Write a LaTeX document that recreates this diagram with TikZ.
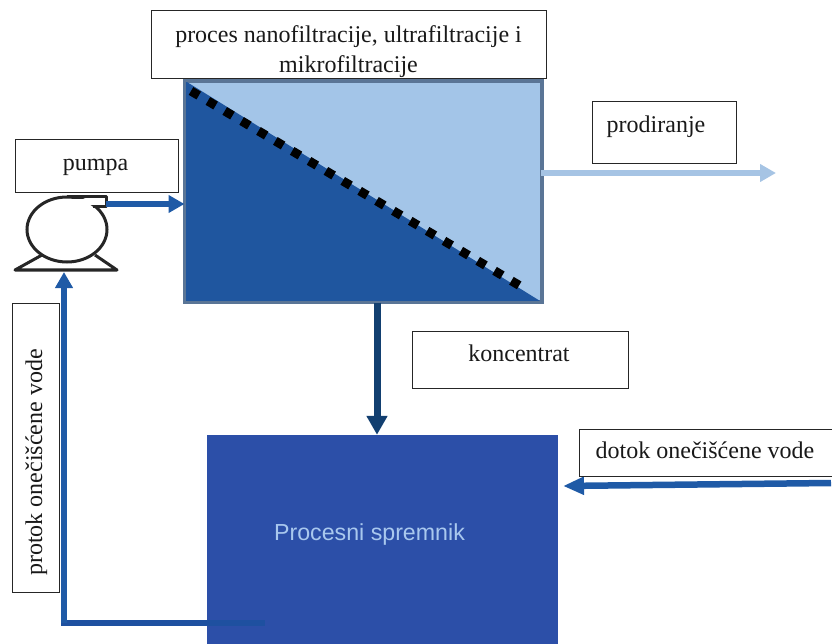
\documentclass[tikz,border=0pt]{standalone}
\usepackage{fontspec}
\setmainfont{Liberation Serif}
\setsansfont{Liberation Sans}
\usetikzlibrary{arrows.meta,shapes.geometric}
\definecolor{flowblue}{HTML}{1F5AA6}
\definecolor{filterdark}{HTML}{1F569F}
\definecolor{filterlight}{HTML}{A3C5E8}
\definecolor{filteredge}{HTML}{5A7596}
\definecolor{tankblue}{HTML}{2C4FA8}
\definecolor{tankpipe}{HTML}{1E50A0}
\definecolor{conc}{HTML}{123F70}
\definecolor{perm}{HTML}{A6C4E4}
\definecolor{tanktext}{HTML}{A9C8EE}
\newcommand{\off}[3]{\makebox[0pt][c]{\raisebox{#2pt}[0pt][0pt]{\hspace*{#1pt}#3}}}
\tikzset{
  lbl/.style={draw=black!85,line width=1pt,fill=white,inner sep=0pt,font=\fontsize{24}{30}\selectfont,text=black!90},
  pipe/.style={line width=6.5pt,color=flowblue,-{Triangle[length=16pt,width=17pt]}},
  pumpline/.style={draw=black!85,line width=3pt,line join=round}
}
\begin{document}
\begin{tikzpicture}[x=1pt,y=-1pt]
\useasboundingbox (0,0) rectangle (832,644);
% filter
\node[draw=filteredge,line width=3pt,fill=filterlight,inner sep=0pt,minimum width=355pt,minimum height=219pt] (filter) at (363.5,191.5) {};
\fill[filterdark] (filter.north west) -- (filter.south east) -- (filter.south west) -- cycle;
\draw[black,line width=9pt,dash pattern=on 9pt off 10.6pt] (191,91) -- (527,290);
\draw[filteredge,line width=3pt] (filter.north west) rectangle (filter.south east);
% tank
\node[fill=tankblue,inner sep=0pt,minimum width=351pt,minimum height=209pt,text=tanktext,font=\sffamily\fontsize{23.2}{27}\selectfont] (tank) at (382.5,539.5) {\off{-26}{-0.5}{Procesni spremnik}};
% pump
\node[draw=black!85,line width=3pt,ellipse,inner sep=0pt,minimum width=80pt,minimum height=65pt] (pump) at (67,229.5) {};
\coordinate (pumpout) at (106,204);
\coordinate (pumpin) at (64,272);
\coordinate (baseL) at (15,270);
\coordinate (baseR) at (117,270);
\fill[white] (72,199.5) rectangle (112,205.5);
\draw[pumpline] (67,197) -- (106,197) -- (106,207) -- (93,207);
\draw[pumpline] (42,255) -- (baseL) -- (baseR) -- (95,255);
% pipes
\draw[pipe] (pumpout) -- (filter.west |- pumpout);
\coordinate (corner) at (64,623);
\coordinate (tankout) at (262,623);
\draw[line width=6.5pt,color=tankpipe,line cap=rect] (tankout) -- (corner);
\draw[pipe,color=flowblue] (corner) -- (pumpin);
\draw[pipe,color=perm] (541,173) -- (776,173);
\draw[pipe,color=conc,line width=7pt,-{Triangle[length=19pt,width=20pt]}] (filter.south -| 377,0) -- (tank.north -| 377,0);
\coordinate (infl) at (831,483);
\draw[pipe,-{Triangle[length=21pt,width=17pt]}] (infl) -- (563,486);
% labels
\node[lbl,minimum width=395pt,minimum height=68pt] (top) at (348.5,45) {\raisebox{-12.5pt}[0pt][0pt]{\parbox[c]{395pt}{\centering proces nanofiltracije, ultrafiltracije i\\ mikrofiltracije}}};
\node[lbl,minimum width=163pt,minimum height=53pt] (lpump) at (96.5,166.5) {\off{-2}{-4}{pumpa}};
\node[lbl,minimum width=144pt,minimum height=62pt] (lperm) at (664,133) {\off{-16}{0}{prodiranje}};
\node[lbl,minimum width=216pt,minimum height=57pt] (lconc) at (520,359.5) {\off{-2}{-1.5}{koncentrat}};
\node[lbl,minimum width=260pt,minimum height=47pt] (lin) at (709,452.5) {\off{-8}{-6}{dotok onečišćene vode}};
\node[lbl,minimum width=289pt,minimum height=47pt,rotate=90] (lflow) at (35.5,447.5) {\off{-30}{-6.5}{protok onečišćene vode}};
\end{tikzpicture}
\end{document}
